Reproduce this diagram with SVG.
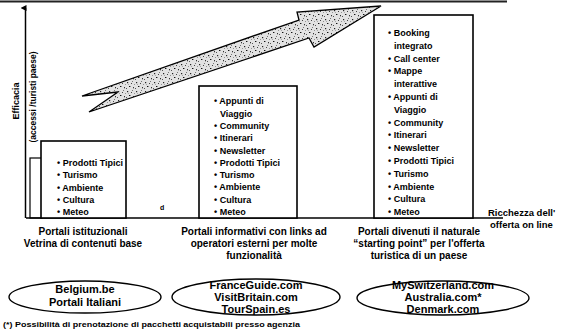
<svg xmlns="http://www.w3.org/2000/svg" width="568" height="333" viewBox="0 0 568 333">
<style>
  text { font-family: "Liberation Sans", Arial, sans-serif; font-weight: bold; fill: #000; }
  .item { font-size: 9px; }
  .cap { font-size: 10px; text-anchor: middle; }
  .ell { font-size: 11px; text-anchor: middle; }
  .box { fill: #fff; stroke: #000; stroke-width: 1.6; }
  .oval { fill: #fff; stroke: #000; stroke-width: 1.4; }
  .ax { stroke: #000; stroke-width: 1.5; fill: none; }
</style>
<defs>
  <pattern id="speck" width="9" height="9" patternUnits="userSpaceOnUse">
    <rect width="9" height="9" fill="#e2e2e2"/>
    <rect x="1" y="1" width="1.2" height="1.2" fill="#222"/>
    <rect x="5" y="2" width="1" height="1" fill="#444"/>
    <rect x="3" y="5" width="1.4" height="1" fill="#111"/>
    <rect x="7" y="6" width="1" height="1.3" fill="#333"/>
    <rect x="0" y="7" width="1" height="1" fill="#555"/>
    <rect x="6" y="0" width="1" height="1" fill="#777"/>
    <rect x="2" y="3" width="0.8" height="0.8" fill="#888"/>
    <rect x="8" y="3" width="0.8" height="0.8" fill="#666"/>
  </pattern>
  <marker id="up" markerWidth="6" markerHeight="6" refX="3" refY="5" orient="auto-start-reverse" markerUnits="userSpaceOnUse">
    <path d="M0,6 L3,0 L6,6 Z" fill="#000"/>
  </marker>
</defs>
<rect width="568" height="333" fill="#fff"/>

<!-- top frame line -->
<line x1="0" y1="1.5" x2="507" y2="1.5" stroke="#222" stroke-width="2"/>

<g id="axes">
  <line class="ax" x1="25.5" y1="218" x2="25.5" y2="8" marker-end="url(#up)"/>
  <line class="ax" x1="26" y1="218" x2="503" y2="218"/>
  <rect x="30" y="158" width="12" height="60" fill="none" stroke="#000" stroke-width="1.2"/>
  <text x="0" y="0" font-size="9" text-anchor="middle" transform="translate(19,101) rotate(-90)">Efficacia</text>
  <text x="0" y="0" font-size="8.5" text-anchor="middle" transform="translate(36,97) rotate(-90)">(accessi /turisti paese)</text>
  <text x="488" y="216" font-size="9.5">Ricchezza dell'</text>
  <text x="490" y="228" font-size="9.5">offerta on line</text>
</g>

<g id="trend-arrow">
  <polygon points="82,96 299,20 297,12 381,6 314,47 309,38 89,112 118,92" fill="url(#speck)" stroke="#000" stroke-width="1.3" stroke-linejoin="miter"/>
</g>

<g id="box1">
  <rect class="box" x="41" y="141" width="85" height="77"/>
  <text class="item" x="57" y="166">• Prodotti Tipici</text>
  <text class="item" x="57" y="178.3">• Turismo</text>
  <text class="item" x="57" y="190.6">• Ambiente</text>
  <text class="item" x="57" y="202.9">• Cultura</text>
  <text class="item" x="57" y="215.2">• Meteo</text>
  <text x="160" y="210" font-size="7">d</text>
</g>

<g id="box2">
  <rect class="box" x="199" y="86" width="98" height="132"/>
  <text class="item" x="214" y="104.3">• Appunti di</text>
  <text class="item" x="220" y="116.6">Viaggio</text>
  <text class="item" x="214" y="128.9">• Community</text>
  <text class="item" x="214" y="141.2">• Itinerari</text>
  <text class="item" x="214" y="153.5">• Newsletter</text>
  <text class="item" x="214" y="165.8">• Prodotti Tipici</text>
  <text class="item" x="214" y="178.1">• Turismo</text>
  <text class="item" x="214" y="190.4">• Ambiente</text>
  <text class="item" x="214" y="202.7">• Cultura</text>
  <text class="item" x="214" y="215">• Meteo</text>
</g>

<g id="box3">
  <rect class="box" x="374" y="15" width="99" height="203"/>
  <text class="item" x="388" y="36">• Booking</text>
  <text class="item" x="394" y="48.8">integrato</text>
  <text class="item" x="388" y="61.6">• Call center</text>
  <text class="item" x="388" y="74.4">• Mappe</text>
  <text class="item" x="394" y="87.2">interattive</text>
  <text class="item" x="388" y="100">• Appunti di</text>
  <text class="item" x="394" y="112.8">Viaggio</text>
  <text class="item" x="388" y="125.6">• Community</text>
  <text class="item" x="388" y="138.4">• Itinerari</text>
  <text class="item" x="388" y="151.2">• Newsletter</text>
  <text class="item" x="388" y="164">• Prodotti Tipici</text>
  <text class="item" x="388" y="176.8">• Turismo</text>
  <text class="item" x="388" y="189.6">• Ambiente</text>
  <text class="item" x="388" y="202.4">• Cultura</text>
  <text class="item" x="388" y="215.2">• Meteo</text>
</g>

<g id="caption1">
  <text class="cap" x="83" y="234.5">Portali istituzionali</text>
  <text class="cap" x="83" y="246.5">Vetrina di contenuti base</text>
</g>
<g id="caption2">
  <text class="cap" x="254" y="234.5">Portali informativi con links ad</text>
  <text class="cap" x="254" y="246.5">operatori esterni per molte</text>
  <text class="cap" x="254" y="258.5">funzionalità</text>
</g>
<g id="caption3">
  <text class="cap" x="419" y="234.5">Portali divenuti il naturale</text>
  <text class="cap" x="419" y="246.5">“starting point” per l'offerta</text>
  <text class="cap" x="419" y="258.5">turistica di un paese</text>
</g>

<g id="oval1">
  <ellipse class="oval" cx="85" cy="297" rx="76" ry="16"/>
  <text class="ell" x="85" y="293">Belgium.be</text>
  <text class="ell" x="85" y="306">Portali Italiani</text>
</g>
<g id="oval2">
  <ellipse class="oval" cx="256" cy="297" rx="84" ry="18"/>
  <text class="ell" x="256" y="289">FranceGuide.com</text>
  <text class="ell" x="256" y="301">VisitBritain.com</text>
  <text class="ell" x="256" y="313">TourSpain.es</text>
</g>
<g id="oval3">
  <ellipse class="oval" cx="443" cy="298" rx="86" ry="17"/>
  <text class="ell" x="443" y="289">MySwitzerland.com</text>
  <text class="ell" x="443" y="301">Australia.com*</text>
  <text class="ell" x="443" y="313">Denmark.com</text>
</g>

<text x="3" y="327" font-size="7.2" textLength="297" lengthAdjust="spacingAndGlyphs">(*) Possibilità di prenotazione di pacchetti acquistabili presso agenzia</text>
</svg>
